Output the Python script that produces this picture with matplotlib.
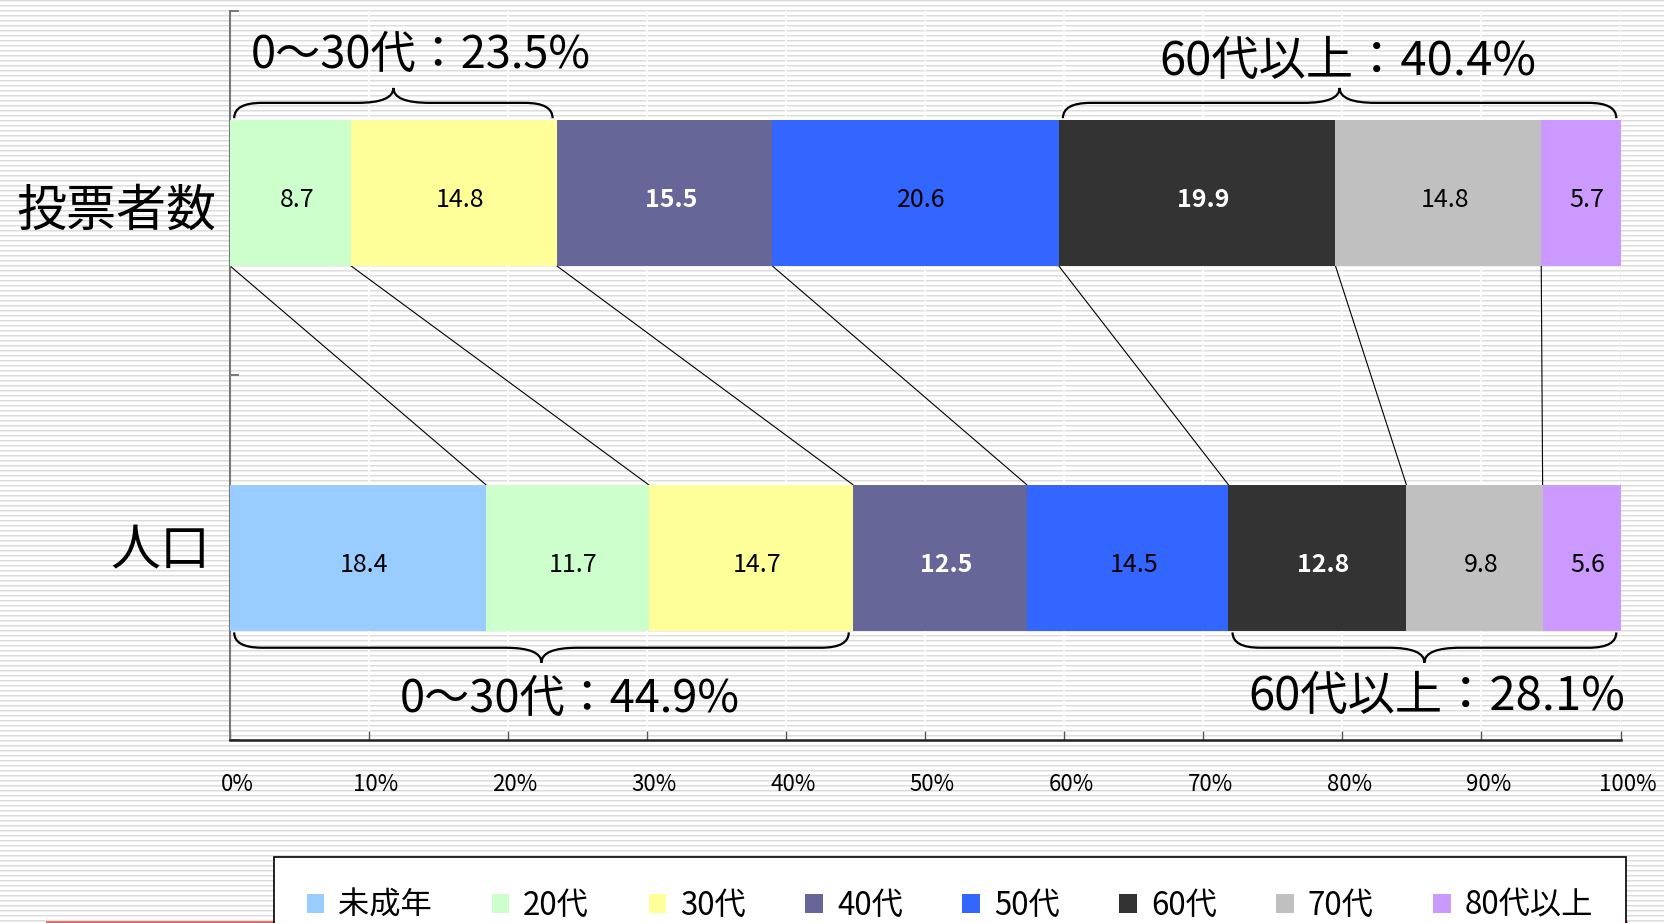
import numpy as np
import matplotlib
matplotlib.use("Agg")
import matplotlib.pyplot as plt
from matplotlib.path import Path
from matplotlib.patches import PathPatch
from matplotlib.transforms import ScaledTranslation

plt.rcParams['font.family'] = ['Noto Sans CJK JP', 'DejaVu Sans']

# data (percent)
categories = ['人口', '投票者数']
age_groups = ['未成年', '20代', '30代', '40代', '50代', '60代', '70代', '80代以上']
population = [18.4, 11.7, 14.7, 12.5, 14.5, 12.8, 9.8, 5.6]
voters = [0, 8.7, 14.8, 15.5, 20.6, 19.9, 14.8, 5.7]
colors = ['#99CCFF', '#CCFFCC', '#FFFF99', '#666699', '#3366FF', '#333333', '#C0C0C0', '#CC99FF']
label_colors = ['black', 'black', 'black', 'white', 'black', 'white', 'black', 'black']

group_names = ['0～30代', '60代以上']
group_ranges = [(0, 3), (5, 8)]        # series index ranges
voter_group_share = [23.5, 40.4]
pop_group_share = [44.9, 28.1]

xticks = [0, 10, 20, 30, 40, 50, 60, 70, 80, 90, 100]

W, H = 1664, 923
fig = plt.figure(figsize=(W / 100, H / 100), dpi=100)

# striped background
bg = np.ones((H, W, 3))
rows = np.arange(H)
bg[rows % 5 == 0] = 0.87
bg[rows % 5 == 1] = 0.93
fig.figimage(bg, 0, 0, zorder=-5)

ax = fig.add_axes([230 / W, 1 - 740 / H, 1390.5 / W, 729.4 / H])
ax.patch.set_alpha(0)

bar_h = 0.4
series = np.array([population, voters])  # rows: category
lefts = np.zeros(len(categories))
cum = []
for i, name in enumerate(age_groups):
    vals = series[:, i]
    bc = ax.barh([0, 1], vals, left=lefts, height=bar_h, color=colors[i],
                 label=name, zorder=3)
    labs = ['' if v == 0 else f'{v:.1f}' for v in vals]
    anns = ax.bar_label(bc, labels=labs, label_type='center', fontsize=18,
                        color=label_colors[i],
                        fontweight='bold' if label_colors[i] == 'white' else 'normal',
                        zorder=4)
    for t in anns:
        t.xyann = (4.5, -5)
    lefts = lefts + vals
    cum.append(lefts.copy())
cum = np.array(cum)  # shape (series, category)

# series lines between bars
for c in cum:
    ax.plot([c[1], c[0]], [1 - bar_h / 2, bar_h / 2], color='black', lw=0.8, zorder=2)


def brace(x0, x1, yb, up):
    s = 1 if up else -1
    y1 = yb + s * 0.042
    y2 = yb + s * 0.083
    xm = (x0 + x1) / 2
    re, rt = 2.0, 2.6
    verts = [(x0, yb), (x0, y1), (x0 + re, y1), (xm - rt, y1), (xm, y1), (xm, y2),
             (xm, y1), (xm + rt, y1), (x1 - re, y1), (x1, y1), (x1, yb)]
    codes = [Path.MOVETO, Path.CURVE3, Path.CURVE3, Path.LINETO, Path.CURVE3, Path.CURVE3,
             Path.CURVE3, Path.CURVE3, Path.LINETO, Path.CURVE3, Path.CURVE3]
    ax.add_patch(PathPatch(Path(verts, codes), fill=False, lw=1.6, ec='black',
                           zorder=5, clip_on=False))
    return xm, y2


# text offsets (px) from brace tip, and sizes
txt_off = {(1, 0): (27, 33), (1, 1): (8, 26), (0, 0): (28, -36), (0, 1): (12, -34)}
txt_size = [32.5, 34]
for g, (a, b) in enumerate(group_ranges):
    for ci, shares in ((1, voter_group_share), (0, pop_group_share)):
        start = cum[a - 1][ci] if a > 0 else 0
        end = cum[b - 1][ci]
        up = ci == 1
        yb = ci + (bar_h / 2 + 0.005) * (1 if up else -1)
        xm, yt = brace(start + 0.3, end - 0.3, yb, up)
        dx, dy = txt_off[(ci, g)]
        ax.annotate(f'{group_names[g]}：{shares[g]}%', xy=(xm, yt),
                    xytext=(dx * 0.72, dy * 0.72), textcoords='offset points',
                    ha='center', va='center', fontsize=txt_size[g], annotation_clip=False)

# category labels
cat_off = {'投票者数': (-9.5, -13.7), '人口': (-14, 4.3)}
for ci, cat in enumerate(categories):
    ax.annotate(cat, xy=(0, ci), xycoords=('axes fraction', 'data'),
                xytext=cat_off[cat], textcoords='offset points',
                ha='right', va='center', fontsize=36)

ax.set_xlim(0, 100)
ax.set_ylim(-0.5, 1.5)
ax.set_yticks([-0.5, 0.5, 1.5])
ax.set_yticklabels([])
ax.set_xticks(xticks)
ax.set_xticklabels([f'{t}%' for t in xticks], fontsize=16)
ax.tick_params(axis='x', direction='in', length=6.5, width=1, color='#555555', pad=24)
ax.tick_params(axis='y', direction='in', length=6.5, width=1.2, color='#666666')
for lbl in ax.get_xticklabels():
    lbl.set_transform(lbl.get_transform() + ScaledTranslation(0.07, 0, fig.dpi_scale_trans))
ax.grid(axis='x', color='white', lw=1.2, zorder=1)
ax.set_axisbelow(True)
for s in ['top', 'right']:
    ax.spines[s].set_visible(False)
ax.spines['left'].set_color('#777777')
ax.spines['left'].set_linewidth(1.5)
ax.spines['bottom'].set_color('#222222')
ax.spines['bottom'].set_linewidth(1.8)

# red rule at bottom
fig.add_artist(plt.Line2D([47 / W, 1626 / W], [1.5 / H, 1.5 / H], color='#E06666', lw=2))

handles, labels = ax.get_legend_handles_labels()
leg = fig.legend(handles, labels, loc='upper left',
                 bbox_to_anchor=(274 / W, 0, (1626 - 274) / W, 1 - 857 / H),
                 mode='expand', ncol=8, fontsize=22.5, handlelength=0.56, handleheight=0.56,
                 handletextpad=0.45, borderpad=1.05, borderaxespad=0, fancybox=False,
                 framealpha=1, edgecolor='black')
leg.get_frame().set_linewidth(1.2)

fig.savefig('out.png', dpi=100)
